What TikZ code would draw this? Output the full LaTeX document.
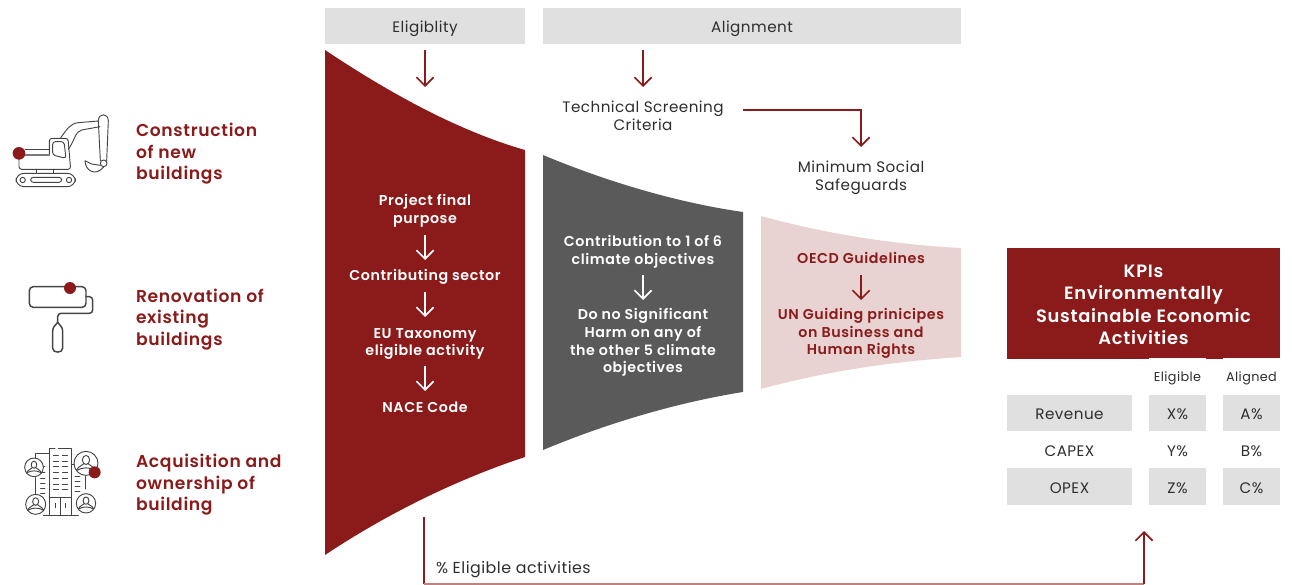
\documentclass[tikz,border=0pt]{standalone}
\usepackage{fontspec}
\setmainfont{Poppins}[LetterSpace=3]
\newfontfamily\semib{Poppins SemiBold}[LetterSpace=4]
\usetikzlibrary{arrows.meta}
\definecolor{brickred}{HTML}{8B1A1A}
\definecolor{slate}{HTML}{5A5A5A}
\definecolor{blush}{HTML}{E8D3D2}
\definecolor{panel}{HTML}{E0E0E0}
\definecolor{ink}{HTML}{2E2E2E}
\definecolor{iconline}{HTML}{444444}
\tikzset{
 every node/.style={inner sep=0pt,outer sep=0pt},
 headbox/.style={fill=panel,text=ink,text height=9.5pt,text depth=0pt,font=\fontsize{11.4}{14}\selectfont},
 cellbox/.style={fill=panel,text=ink,text height=10.2pt,text depth=0pt,font=\fontsize{11.4}{14}\selectfont},
 plaincell/.style={text=ink,text height=8pt,text depth=0pt,font=\fontsize{11.4}{14}\selectfont},
 smallhead/.style={text=ink,font=\fontsize{9.6}{12}\selectfont},
 blacklabel/.style={text=ink,align=center,font=\fontsize{11.4}{13.5}\selectfont},
 sectorlabel/.style={text=brickred,align=left,anchor=west,font=\semib\fontsize{12.85}{16.1}\selectfont},
 funnellabel/.style={text=white,align=center,font=\semib\fontsize{10.7}{13.2}\selectfont},
 pinklabel/.style={text=brickred,align=center,font=\semib\fontsize{10.7}{13.2}\selectfont},
 kpilabel/.style={text=white,align=center,font=\semib\fontsize{13.4}{16.9}\selectfont},
 flow/.style={draw=brickred,line width=1.3pt,-{Straight Barb[length=6.5pt,width=13pt,line width=1.2pt]}},
 whiteflow/.style={draw=white,line width=1.3pt,-{Straight Barb[length=6.5pt,width=13pt,line width=1.2pt]}},
 icon/.style={draw=iconline,line width=0.7pt,line join=round,line cap=round},
 icondot/.style={fill=brickred},
}
\newcommand{\personicon}[3]{% x, y in pt from the origin, r in pt
 \begin{scope}[shift={(#1pt,-#2pt)},x=#3pt,y=-#3pt]
  \draw[icon] (0,0) circle (1);
  \draw[icon] (0,-0.28) ellipse (0.3 and 0.38);
  \draw[icon] (-0.8,0.6) .. controls (-0.6,0.15) and (-0.3,0.25) .. (-0.2,0.05);
  \draw[icon] (0.8,0.6) .. controls (0.6,0.15) and (0.3,0.25) .. (0.2,0.05);
  \draw[icon] (-0.8,0.6) .. controls (-0.3,0.3) and (0.3,0.3) .. (0.8,0.6);
 \end{scope}}
\begin{document}
\begin{tikzpicture}[x=0.75pt,y=-0.75pt]
\useasboundingbox (0,0) rectangle (1292,585);
% headers
\node[headbox,minimum width=150pt,minimum height=27pt] (elig) at (425,26) {Eligiblity};
\node[headbox,minimum width=313.5pt,minimum height=27pt] (align) at (752,26) {Alignment};
% funnels
\fill[brickred] (325,50) .. controls (385,90) and (455,130) .. (525,150) -- (525,457) .. controls (455,480) and (385,515) .. (325,555) -- cycle;
\fill[slate] (543,155) .. controls (610,183) and (680,203) .. (743,212) -- (743,392) .. controls (680,402) and (610,422) .. (543,450) -- cycle;
\fill[blush] (761,216) .. controls (830,235) and (900,245) .. (961,248) -- (961,357) .. controls (900,361) and (830,370) .. (761,389) -- cycle;
% top arrows
\coordinate (eligin) at (425,50);
\coordinate (eligout) at (425,87);
\draw[flow] (eligin) -- (eligout);
\coordinate (alignin) at (643,50);
\coordinate (alignout) at (643,87);
\draw[flow] (alignin) -- (alignout);
\node[blacklabel] (tsc) at (643,116) {Technical Screening\\Criteria};
\node[blacklabel] (mss) at (861,177.5) {Minimum Social\\Safeguards};
\coordinate (tscr) at (743,110);
\coordinate (mssin) at (861,147);
\draw[flow] (tscr) -| (mssin);
% red funnel text
\node[funnellabel] (p1) at (425,211) {Project final\\purpose};
\node[funnellabel] (p2) at (425,277) {Contributing sector};
\node[funnellabel] (p3) at (425,344) {EU Taxonomy\\eligible activity};
\node[funnellabel] (p4) at (425,407.5) {NACE Code};
\coordinate (a1) at (425,235); \coordinate (a2) at (425,260);
\coordinate (b1) at (425,292); \coordinate (b2) at (425,317);
\coordinate (c1) at (425,366); \coordinate (c2) at (425,391);
\draw[whiteflow] (a1) -- (a2);
\draw[whiteflow] (b1) -- (b2);
\draw[whiteflow] (c1) -- (c2);
% grey funnel text
\node[funnellabel] (g1) at (643,251.5) {Contribution to 1 of 6\\climate objectives};
\node[funnellabel] (g2) at (643,342.5) {Do no Significant\\Harm on any of\\the other 5 climate\\objectives};
\coordinate (d1) at (643,275); \coordinate (d2) at (643,300);
\draw[whiteflow] (d1) -- (d2);
% pink funnel text
\node[pinklabel] (o1) at (861,258) {OECD Guidelines};
\node[pinklabel] (o2) at (861,333.5) {UN Guiding prinicipes\\on Business and\\Human Rights};
\coordinate (e1) at (861,275); \coordinate (e2) at (861,300);
\draw[flow] (e1) -- (e2);
% sectors
\node[sectorlabel] (s1) at (136,154) {Construction\\of new\\buildings};
\node[sectorlabel] (s2) at (136,319.5) {Renovation of\\existing\\buildings};
\node[sectorlabel] (s3) at (136,485) {Acquisition and\\ownership of\\building};
% KPI
\node[fill=brickred,minimum width=204.75pt,minimum height=83.25pt] (kpi) at (1143.5,303.5) {};
\node[kpilabel] (kpitext) at (1143.5,305) {KPIs\\Environmentally\\Sustainable Economic\\Activities};
\fill[white] (1149,358) rectangle (1206,359.5);
\fill[white] (1223,358) rectangle (1280,359.5);
\node[smallhead] (he) at (1177.5,378.5) {Eligible};
\node[smallhead] (ha) at (1251.5,378.5) {Aligned};
\node[cellbox,minimum width=93.75pt,minimum height=27pt] (r1) at (1069.5,413) {Revenue};
\node[cellbox,minimum width=42.75pt,minimum height=27pt] (r2) at (1177.5,413) {X\%};
\node[cellbox,minimum width=42.75pt,minimum height=27pt] (r3) at (1251.5,413) {A\%};
\node[plaincell] (c1n) at (1069.5,451) {CAPEX};
\node[plaincell] (c2n) at (1177.5,451) {Y\%};
\node[plaincell] (c3n) at (1251.5,451) {B\%};
\node[cellbox,minimum width=93.75pt,minimum height=27.75pt] (o1n) at (1069.5,486.5) {OPEX};
\node[cellbox,minimum width=42.75pt,minimum height=27.75pt] (o2n) at (1177.5,486.5) {Z\%};
\node[cellbox,minimum width=42.75pt,minimum height=27.75pt] (o3n) at (1251.5,486.5) {C\%};
% bottom connector
\coordinate (ls) at (424,517);
\coordinate (lc) at (424,584);
\coordinate (rc) at (1144,584);
\coordinate (re) at (1144,531);
\draw[brickred,line width=0.9pt] (ls) -- (lc);
\draw[brickred!55,line width=1pt] (lc) -- (rc);
\draw[flow] (rc) -- (re);
\node[text=ink,anchor=west,font=\fontsize{11.9}{14}\selectfont] (pct) at (436,569.5) {\% Eligible activities};
% excavator
\begin{scope}[shift={(0pt,-67.5pt)},x=0.25pt,y=-0.25pt]
 \draw[icon,rounded corners=6pt] (48,250) rectangle (226,290);
 \draw[icon] (68,270) circle (8) (207,270) circle (8);
 \draw[icon,rounded corners=2pt] (92,262) rectangle (185,277);
 \draw[icon] (110,238) -- (110,250) (160,238) -- (160,250);
 \draw[icon,rounded corners=2pt] (57,192) -- (57,238) -- (212,238) -- (204,145) -- (148,145) -- (148,195);
 \draw[icon] (75,178) -- (148,178);
 \draw[icon,draw=iconline!70,line width=1.1pt] (62,195) -- (148,195);
 \draw[icon,rounded corners=2pt] (158,155) -- (192,155) -- (198,205) -- (158,195) -- cycle;
 \draw[icon] (182,143) .. controls (200,120) and (210,100) .. (235,98) -- (295,93);
 \draw[icon] (205,178) .. controls (225,150) and (225,125) .. (245,120) -- (300,110);
 \draw[icon] (295,93) .. controls (295,68) and (325,68) .. (325,93) -- (320,212);
 \draw[icon] (295,93) -- (301,212);
 \draw[icon] (311,220) circle (10);
 \draw[icon] (301,226) -- (275,222) -- (255,212) .. controls (255,240) and (285,262) .. (311,231);
 \fill[icondot] (57,190) circle (19);
\end{scope}
% roller
\begin{scope}[shift={(7.5pt,-202.5pt)},x=0.25pt,y=-0.25pt]
 \draw[icon,line width=1.1pt,rounded corners=3pt] (58,50) rectangle (228,112);
 \draw[icon,line width=1.1pt,rounded corners=2.5pt] (228,80) -- (248,80) -- (248,130) -- (143,130) -- (143,157);
 \draw[icon,line width=1.1pt] (143,157) .. controls (135,168) and (128,170) .. (128,185) -- (128,235) .. controls (128,250) and (158,250) .. (158,235) -- (158,185) .. controls (158,170) and (151,168) .. (143,157);
 \fill[icondot] (180,54) circle (18);
\end{scope}
% building
\begin{scope}[shift={(7.5pt,-326.25pt)},x=0.25pt,y=-0.25pt]
 \draw[icon] (117,240) -- (117,40) -- (135,40) (145,40) -- (184,40) -- (184,240);
 \draw[icon] (100,240) -- (205,240);
 \draw[icon] (117,188) -- (184,188) (150,188) -- (150,240);
 \draw[icon] (135,205) -- (135,218) (165,205) -- (165,218);
 \foreach \yy in {60,78,95,113,130,147,163}{
  \draw[icon] (130,\yy) -- (145,\yy) (157,\yy) -- (172,\yy);
 }
 \draw[icon] (75,68) -- (75,55) -- (117,55);
 \draw[icon] (75,128) -- (75,178);
 \foreach \yy in {95,113,130,145,160,175}{
  \draw[icon] (92,\yy) -- (105,\yy);
 }
 \foreach \yy in {125,140,155,170}{
  \draw[icon] (195,\yy) -- (210,\yy);
 }
 \draw[icon] (184,88) -- (192,88);
 \draw[icon] (225,125) -- (225,162);
 \fill[white] (72,97) circle (28) (228,85) circle (36) (77,208) circle (30) (228,205) circle (29);
\end{scope}
\personicon{25.5}{350.5}{7}
\personicon{64.5}{347.5}{9}
\personicon{26.75}{378.25}{7.5}
\personicon{64.5}{377.5}{7.25}
\fill[icondot] (10+254/3,435+112/3) circle (6);
\end{tikzpicture}
\end{document}
